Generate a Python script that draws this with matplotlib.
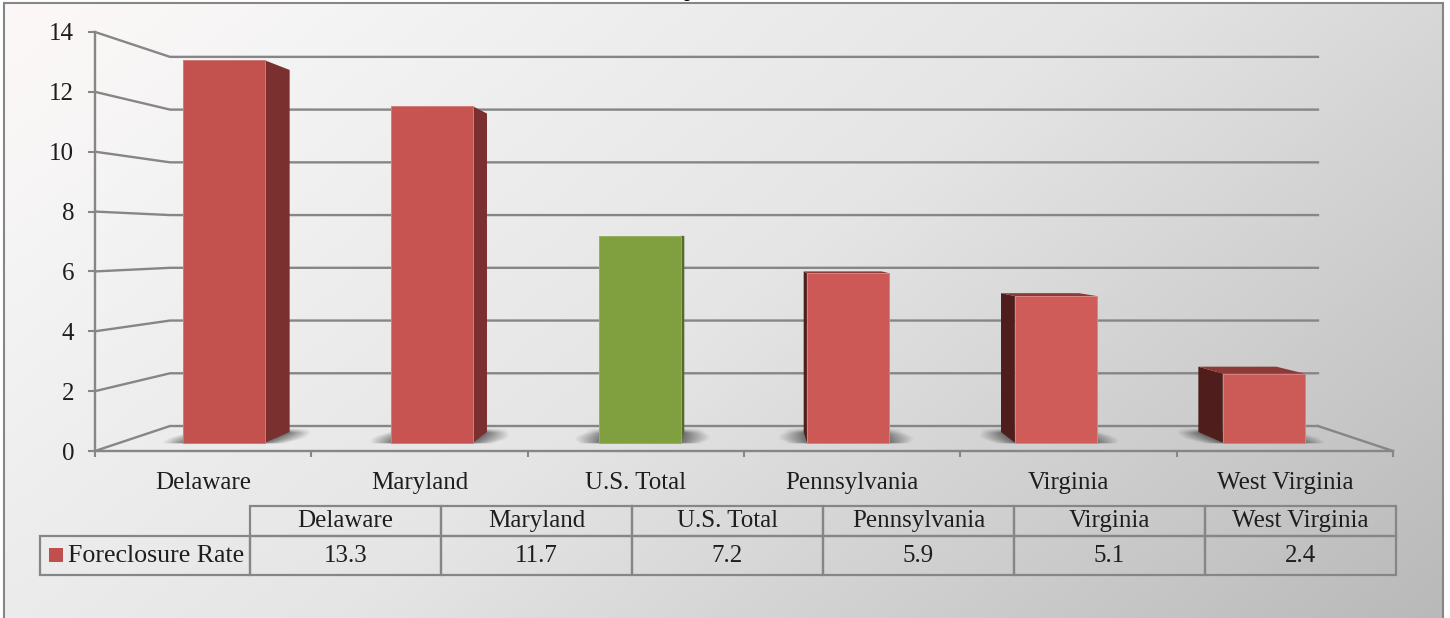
import numpy as np
import matplotlib
matplotlib.use("Agg")
import matplotlib.pyplot as plt
from matplotlib.colors import LinearSegmentedColormap, to_rgb
from matplotlib.patches import Polygon, Rectangle

plt.rcParams['font.family'] = ['Liberation Serif', 'DejaVu Serif']

categorias = ["Delaware", "Maryland", "U.S. Total", "Pennsylvania", "Virginia", "West Virginia"]
tasas = [13.3, 11.7, 7.2, 5.9, 5.1, 2.4]
serie = "Foreclosure Rate"
ticks_y = [0, 2, 4, 6, 8, 10, 12, 14]

# Colores de cada barra: frente, lateral y tapa
frente = ['#C3524E', '#C75450', '#80A040', '#CC5955', '#CF5C58', '#CC5A56']
borde = ['#CF7A76', '#D27E7A', '#96B060', '#D8827E', '#DA8682', '#D8827E']
lateral = ['#7B3030', '#7B3030', '#566B2B', '#4F1E1C', '#4F1E1C', '#4F1E1C']
tapa = ['#8C3A38', '#8C3A38', '#66803A', '#8C3A38', '#8C3A38', '#8C3A38']
gris = '#868686'
texto = '#1E1E1E'

W, H = 1450, 618


def fx(x):
    return x / W


def fy(y):
    return 1 - y / H


# Perspectiva: t=0 es el plano del eje, t=1 la pared del fondo
def proyectar(x, y, t):
    k = 0.0578
    return x * (1 - 2 * k * t) + 6 * k * t, 0.835 * t + y * (1 - 0.119 * t)


# Sombra difusa en el piso alrededor de la base de una barra
def sombra(ax, fi, fd, bi, bd, ext=0.13):
    y_min, y_max = fi[1] - 0.03, bi[1] + 0.14
    x_min, x_max = min(fi[0], bi[0]) - ext, max(fd[0], bd[0]) + ext
    gx, gy = np.meshgrid(np.linspace(x_min, x_max, 200), np.linspace(y_min, y_max, 30))
    s = np.clip((gy - fi[1]) / (bi[1] - fi[1]), 0, 1)
    izq = fi[0] + (bi[0] - fi[0]) * s
    der = fd[0] + (bd[0] - fd[0]) * s
    dist = np.maximum(np.maximum(izq - gx, gx - der), 0)
    alcance = ext * (0.75 + 0.25 * np.sin(np.pi * s))
    alfa = 0.68 * np.clip(1 - dist / alcance, 0, 1)
    alfa *= np.clip((y_max - gy) / 0.16, 0, 1) * np.clip((gy - y_min) / 0.03, 0, 1)
    rgba = np.zeros(gx.shape + (4,))
    rgba[..., :3] = to_rgb('#3A3A3A')
    rgba[..., 3] = alfa
    ax.imshow(rgba, extent=[x_min, x_max, y_min, y_max], origin='lower', aspect='auto',
              interpolation='bilinear', zorder=2)


fig = plt.figure(figsize=(W / 100, H / 100), dpi=100, facecolor='white')

# Fondo con degradado en diagonal
fondo = fig.add_axes([fx(4), 0, fx(1443) - fx(4), fy(3)])
fondo.set_axis_off()
xx, yy = np.meshgrid(np.linspace(0, 1, 400), np.linspace(0, 1, 200))
grad = 0.65 * xx + 0.35 * yy
cmap = LinearSegmentedColormap.from_list('fondo', [(0, '#FDF8F8'), (0.15, '#F5F4F4'), (0.5, '#E5E5E5'), (1, '#B9B9B9')])
fondo.imshow(grad, cmap=cmap, vmin=0, vmax=1, aspect='auto', interpolation='bilinear')

ax = fig.add_axes([fx(95), fy(451), fx(1393) - fx(95), fy(32) - fy(451)])
ax.patch.set_alpha(0)
ax.set_xlim(0, 6)
ax.set_ylim(0, 14)

# Lineas de guia: pared lateral y pared del fondo
for v in ticks_y:
    px, py = zip(proyectar(0, v, 0), proyectar(0, v, 1), proyectar(6, v, 1))
    ax.plot(px, py, color=gris, lw=1.7, solid_joinstyle='miter', zorder=1, clip_on=False)
px, py = zip(proyectar(6, 0, 1), proyectar(6, 0, 0))
ax.plot(px, py, color=gris, lw=1.7, zorder=1, clip_on=False)

t1, t2 = 0.335, 0.76
ancho = 0.395

for i, valor in enumerate(tasas):
    c = i + 0.5
    izq, der = c - ancho / 2, c + ancho / 2
    fi = proyectar(izq, 0, t1)
    fd = proyectar(der, 0, t1)
    bi = proyectar(izq, 0, t2)
    bd = proyectar(der, 0, t2)

    sombra(ax, fi, fd, bi, bd)

    # Caras visibles de la barra
    if bd[0] > fd[0]:
        cara = [fd, bd, proyectar(der, valor, t2), proyectar(der, valor, t1)]
        ax.add_patch(Polygon(cara, closed=True, fc=lateral[i], ec='none', zorder=3))
    if bi[0] < fi[0]:
        cara = [fi, bi, proyectar(izq, valor, t2), proyectar(izq, valor, t1)]
        ax.add_patch(Polygon(cara, closed=True, fc=lateral[i], ec='none', zorder=3))
    if proyectar(izq, valor, t2)[1] > proyectar(izq, valor, t1)[1]:
        cara = [proyectar(izq, valor, t1), proyectar(der, valor, t1), proyectar(der, valor, t2), proyectar(izq, valor, t2)]
        ax.add_patch(Polygon(cara, closed=True, fc=tapa[i], ec='none', zorder=3))
    cara = [fi, fd, proyectar(der, valor, t1), proyectar(izq, valor, t1)]
    ax.add_patch(Polygon(cara, closed=True, fc=frente[i], ec=borde[i], lw=0.7, zorder=4))

# Ejes
for lado in ['top', 'right']:
    ax.spines[lado].set_visible(False)
for lado in ['left', 'bottom']:
    ax.spines[lado].set_color(gris)
    ax.spines[lado].set_linewidth(1.7)
    ax.spines[lado].set_zorder(5)
ax.set_yticks(ticks_y)
ax.set_xticks(range(7))
ax.set_xticklabels([])
ax.set_xticks([i + 0.5 for i in range(6)], labels=categorias, minor=True)
ax.tick_params(axis='y', length=5, width=1.5, color=gris, pad=10, labelsize=18, labelcolor=texto)
ax.tick_params(axis='x', which='major', length=4.5, width=1.5, color=gris)
ax.tick_params(axis='x', which='minor', length=0, pad=15, labelsize=18, labelcolor=texto)

# Tabla de datos; la caja solo cuenta las columnas de valores, sin la de la serie
caja = [(250 - 95) / 1298, (451 - 575) / 419, (1396 - 250) / 1298, (575 - 506) / 419]
tabla = ax.table(cellText=[[str(v) for v in tasas]], colLabels=categorias, rowLabels=[serie],
                 cellLoc='center', rowLoc='left', colWidths=[191 / 1298] * 6, bbox=caja)
tabla.auto_set_font_size(False)
tabla._autoColumns = []  # la columna de la serie lleva ancho fijo
for (fila, col), celda in tabla.get_celld().items():
    celda.set_facecolor('none')
    celda.set_edgecolor(gris)
    celda.set_linewidth(1.6)
    celda.set_text_props(fontsize=18, color=texto)
    celda.set_height((30 if fila == 0 else 39) / 419)
    if col == -1:
        celda.set_width(210 / 1298)
        celda.PAD = 28 / 210
        celda.set_text_props(fontsize=18.6)

# Cuadro de la leyenda dentro de la tabla
fig.add_artist(Rectangle((fx(49), fy(562)), 14 / W, 14 / H, transform=fig.transFigure, fc='#C0504D', ec='none'))

# Borde del grafico y resto del titulo cortado arriba
fig.add_artist(Rectangle((fx(4), fy(700)), (1443 - 4) / W, (700 - 3) / H, transform=fig.transFigure,
                         fc='none', ec=gris, lw=1.5))
fig.text(fx(680), fy(-3), "Q", fontsize=20, ha='center', va='baseline', color='black')

fig.savefig('out.png', dpi=100)
